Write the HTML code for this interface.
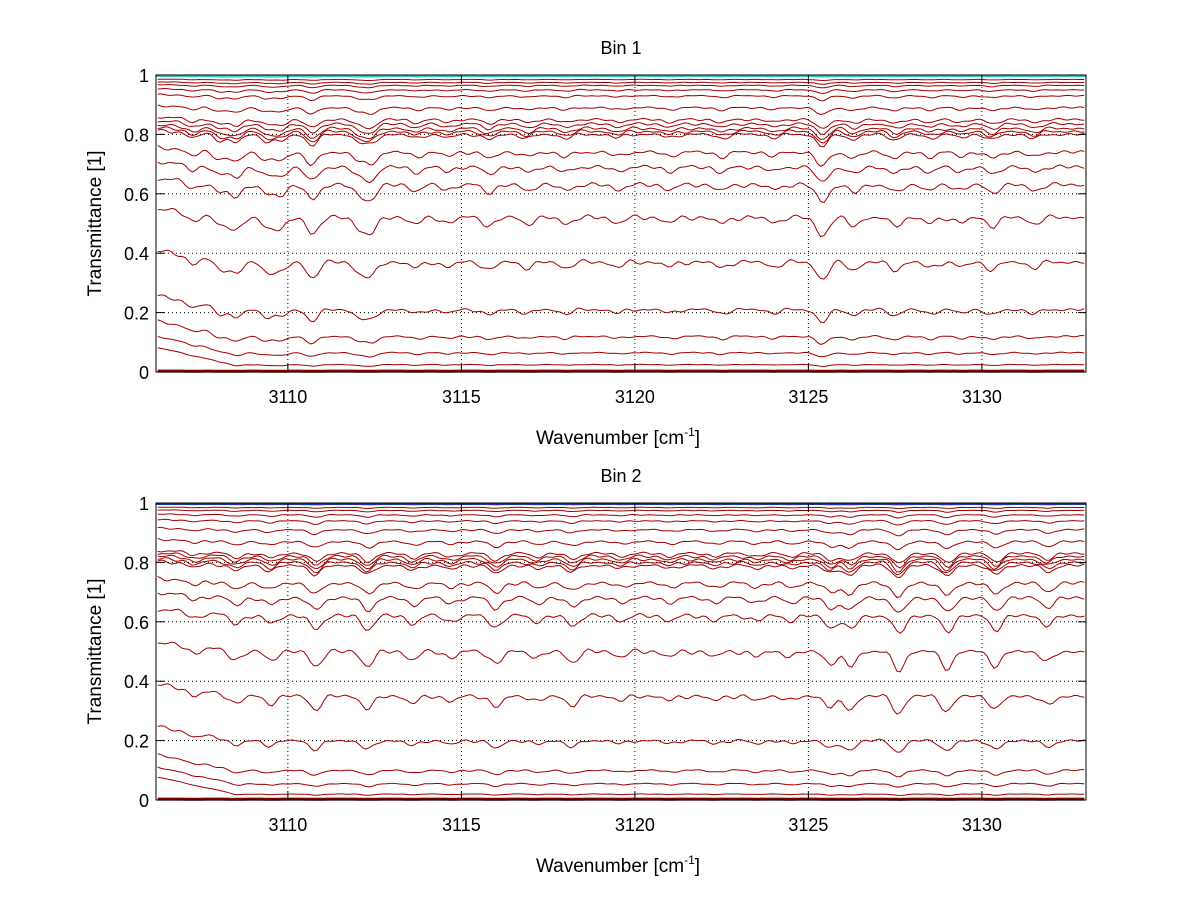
<!DOCTYPE html>
<html><head><meta charset="utf-8"><style>
body{margin:0;background:#fff;}
svg text{font-family:"Liberation Sans",sans-serif;fill:#000;}
</style></head><body>
<svg id="chart" width="1200" height="901" xmlns="http://www.w3.org/2000/svg"></svg>
<script>
// ---- data ----
const xTicks = [3110, 3115, 3120, 3125, 3130];
const yTicks = [0, 0.2, 0.4, 0.6, 0.8, 1];
const xDomain = [3106.2, 3133.0];
const bin1Levels = [0.995, 0.985, 0.975, 0.965, 0.95, 0.93, 0.89, 0.85, 0.835, 0.82, 0.81, 0.80, 0.74, 0.69, 0.63, 0.52, 0.37, 0.21, 0.12, 0.065, 0.025, 0.003];
const bin2Levels = [0.995, 0.985, 0.975, 0.96, 0.94, 0.91, 0.87, 0.83, 0.82, 0.81, 0.80, 0.79, 0.73, 0.68, 0.62, 0.50, 0.35, 0.20, 0.10, 0.055, 0.02, 0.003];
const bin1DipPos = [3107.26, 3108.04, 3108.5, 3109.4, 3109.8, 3110.7, 3112.06, 3112.4, 3113.7, 3114.6, 3115.8, 3116.9, 3118.0, 3119.5, 3121.0, 3122.5, 3124.0, 3125.4, 3126.3, 3127.5, 3128.5, 3129.4, 3130.3, 3131.5];
const bin1DipDepth = [0.4, 0.5, 0.6, 0.5, 0.5, 0.8, 0.5, 0.7, 0.3, 0.25, 0.4, 0.3, 0.3, 0.25, 0.25, 0.3, 0.25, 0.9, 0.4, 0.4, 0.3, 0.25, 0.4, 0.3];
const bin2DipPos = [3107.3, 3108.5, 3109.5, 3110.8, 3112.3, 3113.6, 3114.7, 3116.0, 3117.2, 3118.2, 3119.6, 3121.0, 3122.3, 3123.5, 3124.5, 3125.65, 3126.2, 3127.6, 3129.0, 3130.4, 3131.9];
const bin2DipDepth = [0.3, 0.4, 0.4, 0.7, 0.7, 0.4, 0.3, 0.6, 0.3, 0.5, 0.25, 0.25, 0.25, 0.25, 0.25, 0.6, 0.7, 0.9, 0.8, 0.7, 0.5];

const svg = document.getElementById('chart');
const NS = 'http://www.w3.org/2000/svg';
function mk(tag, attrs, parent) {
  const e = document.createElementNS(NS, tag);
  for (const k in attrs) e.setAttribute(k, attrs[k]);
  (parent || svg).appendChild(e);
  return e;
}
const L = 156, R = 1086;
function xs(v) { return L + (v - xDomain[0]) / (xDomain[1] - xDomain[0]) * (R - L); }

function panel(top, bottom, title, levels, dipPos, dipDepth, topColor, idx) {
  const g = mk('g', {});
  
  
  const ys = v => bottom - v * (bottom - top);
  mk('rect', {x: L, y: top, width: R - L, height: bottom - top, fill: '#fff'}, g);
  xTicks.forEach(t => {
    const l = mk('line', {x1: xs(t), x2: xs(t), y1: top, y2: bottom, stroke: '#000', 'stroke-width': 1, 'stroke-dasharray': '1,3'}, g);
    
    
  });
  yTicks.forEach(t => {
    const l = mk('line', {x1: L, x2: R, y1: ys(t), y2: ys(t), stroke: '#000', 'stroke-width': 1, 'stroke-dasharray': '1,3'}, g);
    
    
  });
  levels.forEach((b, i) => {
    let pts = [];
    for (let v = xDomain[0] + 0.05; v <= xDomain[1] - 0.05; v += 0.1) {
      let s = 0;
      dipPos.forEach((p, j) => {
        const w = 0.17;
        s += dipDepth[j] * Math.exp(-((v - p) * (v - p)) / (2 * w * w));
      });
      const wig = 0.3 * Math.sin(v * 7.3 + i) * Math.sin(v * 2.1) + 0.2 * Math.sin(v * 13.7 + 2 * i);
      const tilt = b < 0.01 ? 0 : (1 - b) * 0.06 * Math.max(0, (3108.5 - v)) / 2.3;
      const val = b + tilt - 0.28 * b * (1 - b) * (s + 0.3 * wig);
      pts.push(xs(v).toFixed(1) + ',' + ys(Math.min(1, val)).toFixed(1));
    }
    const pl = mk('polyline', {points: pts.join(' '), fill: 'none', stroke: b < 0.01 ? '#800000' : '#a00000', 'stroke-width': b < 0.01 ? 3 : 1}, g);
    
    
  });
  const tl = mk('line', {x1: L, x2: R, y1: ys(1) + 1, y2: ys(1) + 1, stroke: topColor, 'stroke-width': 2}, g);
  
  
  const ax = mk('rect', {x: L, y: top, width: R - L, height: bottom - top, fill: 'none', stroke: '#000', 'stroke-width': 1}, g);
  
  
  xTicks.forEach(t => {
    mk('line', {x1: xs(t), x2: xs(t), y1: bottom, y2: bottom - 8, stroke: '#000'}, g);
    mk('line', {x1: xs(t), x2: xs(t), y1: top, y2: top + 8, stroke: '#000'}, g);
    const tx = mk('text', {x: xs(t), y: bottom + 31, 'text-anchor': 'middle', 'font-size': 18}, g);
    tx.textContent = t;
    
    
  });
  yTicks.forEach(t => {
    mk('line', {x1: L, x2: L + 8, y1: ys(t), y2: ys(t), stroke: '#000'}, g);
    mk('line', {x1: R, x2: R - 8, y1: ys(t), y2: ys(t), stroke: '#000'}, g);
    const tx = mk('text', {x: L - 7, y: ys(t) + 7, 'text-anchor': 'end', 'font-size': 18}, g);
    tx.textContent = String(t);
    
    
  });
  const ti = mk('text', {x: 621, y: top - 21, 'text-anchor': 'middle', 'font-size': 18}, g);
  ti.textContent = title;
  
  
  const yl = mk('text', {x: 0, y: 0, 'text-anchor': 'middle', 'font-size': 19, transform: 'translate(101,' + ((top + bottom) / 2) + ') rotate(-90)'}, g);
  yl.textContent = 'Transmittance [1]';
  
  
  const xl = mk('text', {x: 618, y: bottom + 72, 'text-anchor': 'middle', 'font-size': 19}, g);
  xl.innerHTML = 'Wavenumber [cm<tspan dy="-8" font-size="12">-1</tspan><tspan dy="8">]</tspan>';
  
  
}
panel(75, 372, 'Bin 1', bin1Levels, bin1DipPos, bin1DipDepth, '#33cccc', 1);
panel(503, 800, 'Bin 2', bin2Levels, bin2DipPos, bin2DipDepth, '#2233aa', 2);
</script>
</body></html>
